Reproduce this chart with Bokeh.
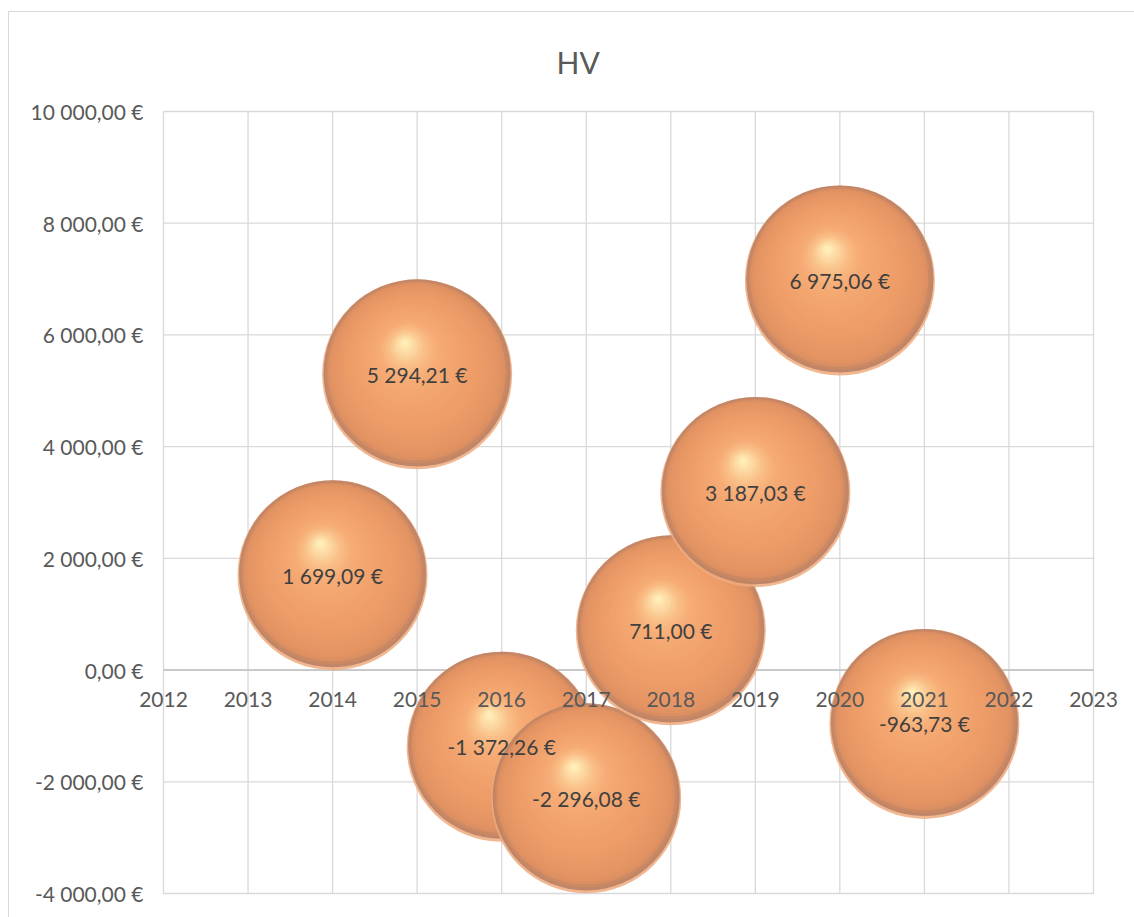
from bokeh.plotting import figure
from bokeh.models import Range1d, FixedTicker, ColumnDataSource, LabelSet, LinearAxis
from bokeh.core.properties import value
from bokeh.embed import file_html
from bokeh.resources import INLINE

# ---- data ----
years = [2014, 2015, 2016, 2017, 2018, 2019, 2020, 2021]
hv = [1699.09, 5294.21, -1372.26, -2296.08, 711.00, 3187.03, 6975.06, -963.73]
hv_labels = ["1 699,09 €", "5 294,21 €", "-1 372,26 €", "-2 296,08 €",
             "711,00 €", "3 187,03 €", "6 975,06 €", "-963,73 €"]
x_ticks = list(range(2012, 2024))
x_tick_labels = [str(y) for y in x_ticks]
y_ticks = [-4000, -2000, 0, 2000, 4000, 6000, 8000, 10000]
y_tick_labels = ["-4 000,00 €", "-2 000,00 €", "0,00 €", "2 000,00 €",
                 "4 000,00 €", "6 000,00 €", "8 000,00 €", "10 000,00 €"]
title_text = "HV"

FONT = "Lato"
TXT = "#595959"
GRID = "#d9d9d9"

# ---- layout (pixels) ----
W, H = 1134, 917
PLOT_L, PLOT_R, PLOT_T, PLOT_B = 163, 1093, 111, 893   # where the axis extents sit
PAD_L, PAD_R, PAD_T, PAD_B = 33, 32, 6, 6              # extra frame room for edge labels
ML, MR, MT, MB = PLOT_L - PAD_L, W - PLOT_R - PAD_R, PLOT_T - PAD_T, H - PLOT_B - PAD_B
ux = (x_ticks[-1] - x_ticks[0]) / (PLOT_R - PLOT_L)   # data per pixel
uy = (y_ticks[-1] - y_ticks[0]) / (PLOT_B - PLOT_T)

p = figure(width=W, height=H, output_backend="svg", toolbar_location=None,
           x_range=Range1d(x_ticks[0] - PAD_L * ux, x_ticks[-1] + PAD_R * ux),
           y_range=Range1d(y_ticks[0] - PAD_B * uy, y_ticks[-1] + PAD_T * uy),
           x_axis_location=None,
           min_border_left=ML, min_border_right=MR,
           min_border_top=MT, min_border_bottom=MB,
           background_fill_color="white", border_fill_color=None)
p.outline_line_color = None
p.grid.visible = False
p.styles = {"background": "linear-gradient(#d9d9d9,#d9d9d9) 8px 11px / 1px 100% no-repeat, "
                          "linear-gradient(#d9d9d9,#d9d9d9) 8px 11px / 100% 1px no-repeat, white"}

p.title.text = title_text
p.title.align = "left"
p.title.offset = 393 + PAD_L
p.title.standoff = 52
p.title.text_font = FONT
p.title.text_font_size = "30px"
p.title.text_font_style = "normal"
p.title.text_color = TXT

# gridlines limited to the axis extents
p.segment(x0=x_ticks, x1=x_ticks, y0=[y_ticks[0]] * len(x_ticks), y1=[y_ticks[-1]] * len(x_ticks),
          line_color=GRID, line_width=1.3)
p.segment(x0=[x_ticks[0]] * len(y_ticks), x1=[x_ticks[-1]] * len(y_ticks), y0=y_ticks, y1=y_ticks,
          line_color=GRID, line_width=1.3)
# horizontal (category) axis line at 0
p.segment(x0=[x_ticks[0]], x1=[x_ticks[-1]], y0=[0], y1=[0], line_color="#bfbfbf", line_width=1.5)

yax = p.yaxis[0]
yax.ticker = FixedTicker(ticks=y_ticks)
yax.major_label_overrides = dict(zip(y_ticks, y_tick_labels))
yax.axis_line_color = None
yax.major_tick_line_color = None
yax.minor_tick_line_color = None
yax.major_tick_out = 0
yax.major_tick_in = 0
yax.major_label_standoff = -13
yax.major_label_text_font = FONT
yax.major_label_text_font_size = "21px"
yax.major_label_text_color = TXT

# year axis sitting on the zero line
xax = LinearAxis(fixed_location=0, ticker=FixedTicker(ticks=x_ticks),
                 major_label_overrides=dict(zip(x_ticks, x_tick_labels)))
xax.axis_line_color = None
xax.major_tick_line_color = None
xax.minor_tick_line_color = None
xax.major_tick_out = 0
xax.major_tick_in = 0
xax.major_label_standoff = -37
xax.major_label_text_font = FONT
xax.major_label_text_font_size = "21px"
xax.major_label_text_color = TXT
p.add_layout(xax, "above")

# ---- bubbles (stacked circles approximate Excel's 3-D radial shading) ----
R = 95
FOC = (-0.13, 0.33)   # highlight focus, in bubble radii (x right, y up)
stops = [(0.0, (186, 128, 98)), (0.05, (226, 146, 98)), (0.3, (237, 156, 104)),
         (0.55, (243, 165, 112)), (0.7, (246, 172, 118)), (0.82, (249, 192, 136)),
         (1.0, (255, 240, 186))]

def shade(t):
    for (t0, c0), (t1, c1) in zip(stops[:-1], stops[1:]):
        if t <= t1:
            f = (t - t0) / (t1 - t0)
            return "#%02x%02x%02x" % tuple(int(round(a + (b - a) * f)) for a, b in zip(c0, c1))
    return "#%02x%02x%02x" % stops[-1][1]

layers = [(0.0, 0.0, 1.0, "#efaa7c", 0.85)]   # soft reflected rim at the bottom
N = 42
for i in range(N):
    t = i / (N - 1)
    rr = 0.985 * (1 - 0.97 * t)
    layers.append((FOC[0] * t, 0.015 + (FOC[1] - 0.015) * t, rr, shade(t), 0.88 if i == 0 else 0.75))

for xv, yv in zip(years, hv):
    src = ColumnDataSource(dict(
        x=[xv + dx * R * ux for dx, dy, r, c, a in layers],
        y=[yv + dy * R * uy for dx, dy, r, c, a in layers],
        r=[r * R for dx, dy, r, c, a in layers],
        c=[c for dx, dy, r, c, a in layers],
        a=[a for dx, dy, r, c, a in layers]))
    p.circle(x="x", y="y", radius="r", radius_units="screen", source=src,
             fill_color="c", fill_alpha="a", line_color=None)

dl = ColumnDataSource(dict(x=years, y=hv, t=hv_labels))
p.add_layout(LabelSet(x="x", y="y", text="t", source=dl,
                      text_align="center", text_baseline="middle",
                      text_font=value(FONT), text_font_size="21px", text_color="#404040"))

open("out.html", "w").write(file_html(p, INLINE))
